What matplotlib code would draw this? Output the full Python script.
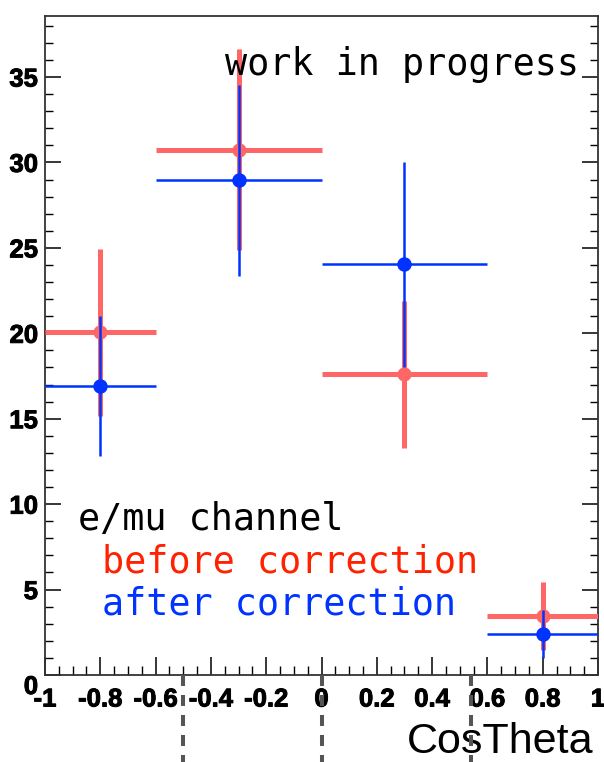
import numpy as np
import matplotlib
matplotlib.use("Agg")
import matplotlib.pyplot as plt
from matplotlib.ticker import MultipleLocator, FixedLocator
import matplotlib.transforms as mtransforms
import matplotlib.patheffects as pe

# bins in cos(theta)
bin_edges = np.array([-1.0, -0.6, 0.0, 0.6, 1.0])
centers = np.array([-0.8, -0.3, 0.3, 0.8])

before = np.array([20.05, 30.75, 17.6, 3.45])
before_err = np.array([4.9, 5.9, 4.3, 2.0])
after = np.array([16.9, 28.95, 24.05, 2.4])
after_err = np.array([4.1, 5.6, 6.0, 1.4])

cut_lines = [-0.5, 0.0, 0.54]

xticks = [-1, -0.8, -0.6, -0.4, -0.2, 0, 0.2, 0.4, 0.6, 0.8, 1]
xticklabels = ["-1", "-0.8", "-0.6", "-0.4", "-0.2", "0", "0.2", "0.4", "0.6", "0.8", "1"]
yticks = [0, 5, 10, 15, 20, 25, 30, 35]

red_line = "#ff6666"
blue_line = "#0033ff"
red_text = "#ff2200"
blue_text = "#0033ff"

plt.rcParams['lines.scale_dashes'] = False

fig = plt.figure(figsize=(6.04, 7.62), dpi=100)
ax = fig.add_axes([45 / 604, 87 / 762, 553 / 604, 659.5 / 762])

xerr = [centers - bin_edges[:-1], bin_edges[1:] - centers]

ax.errorbar(centers, before, xerr=xerr, yerr=before_err, fmt='o', color=red_line,
            ms=9.2, lw=3.6, elinewidth=3.6, capsize=0, zorder=3)
ax.errorbar(centers, after, xerr=xerr, yerr=after_err, fmt='o', color=blue_line,
            ms=9.4, lw=1.8, elinewidth=1.8, capsize=0, zorder=4)

ax.set_xlim(-1, 1)
ax.set_ylim(0, 38.6)

ax.xaxis.set_major_locator(FixedLocator(xticks))
ax.set_xticklabels(xticklabels)
ax.xaxis.set_minor_locator(MultipleLocator(0.05))
ax.yaxis.set_major_locator(FixedLocator(yticks))
ax.yaxis.set_minor_locator(MultipleLocator(1))

ax.tick_params(axis='x', which='major', direction='in', length=13, width=1.1, pad=9,
               top=False, bottom=True)
ax.tick_params(axis='x', which='minor', direction='in', length=6.5, width=1.0,
               top=False, bottom=True)
ax.tick_params(axis='y', which='major', direction='in', length=11.5, width=1.1, pad=5,
               left=True, right=True)
ax.tick_params(axis='y', which='minor', direction='in', length=5.8, width=1.0,
               left=True, right=True)

# make sure all tick objects exist before styling them
xt = ax.xaxis.get_major_ticks(len(xticks))
yt = ax.yaxis.get_major_ticks(len(yticks))
for t in xt + yt:
    lab = t.label1
    lab.set_fontfamily("Liberation Sans")
    lab.set_fontweight("bold")
    lab.set_fontsize(18.5)
    lab.set_path_effects([pe.withStroke(linewidth=0.7, foreground="black")])

# ROOT pushes the "0" label down a bit
yt[0].label1.set_verticalalignment('top')

for s in ax.spines.values():
    s.set_color("#333333")
    s.set_linewidth(1.3)

# dashed cut lines hanging below the axis
trans = mtransforms.blended_transform_factory(ax.transData, ax.transAxes)
for xc in cut_lines:
    ax.plot([xc, xc], [0, -0.14], transform=trans, clip_on=False, color="#555555",
            lw=2.9, dashes=(7.9, 6.5), solid_capstyle='butt', dash_capstyle='butt', zorder=5)

mono = "DejaVu Sans Mono"
ax.text(0.325, 0.9098, "work in progress", transform=ax.transAxes, family=mono,
        fontsize=26.5, color="black", va='baseline', ha='left')
ax.text(0.06, 0.2199, "e/mu channel", transform=ax.transAxes, family=mono,
        fontsize=26.5, color="black", va='baseline', ha='left')
ax.text(0.103, 0.1547, "before correction", transform=ax.transAxes, family=mono,
        fontsize=26.5, color=red_text, va='baseline', ha='left')
ax.text(0.103, 0.091, "after correction", transform=ax.transAxes, family=mono,
        fontsize=26.5, color=blue_text, va='baseline', ha='left')

ax.set_xlabel("CosTheta", family="Liberation Sans", fontsize=31, ha='right', va='baseline')
ax.xaxis.set_label_coords(0.991, -0.1183)

fig.savefig("out.png", dpi=100)
